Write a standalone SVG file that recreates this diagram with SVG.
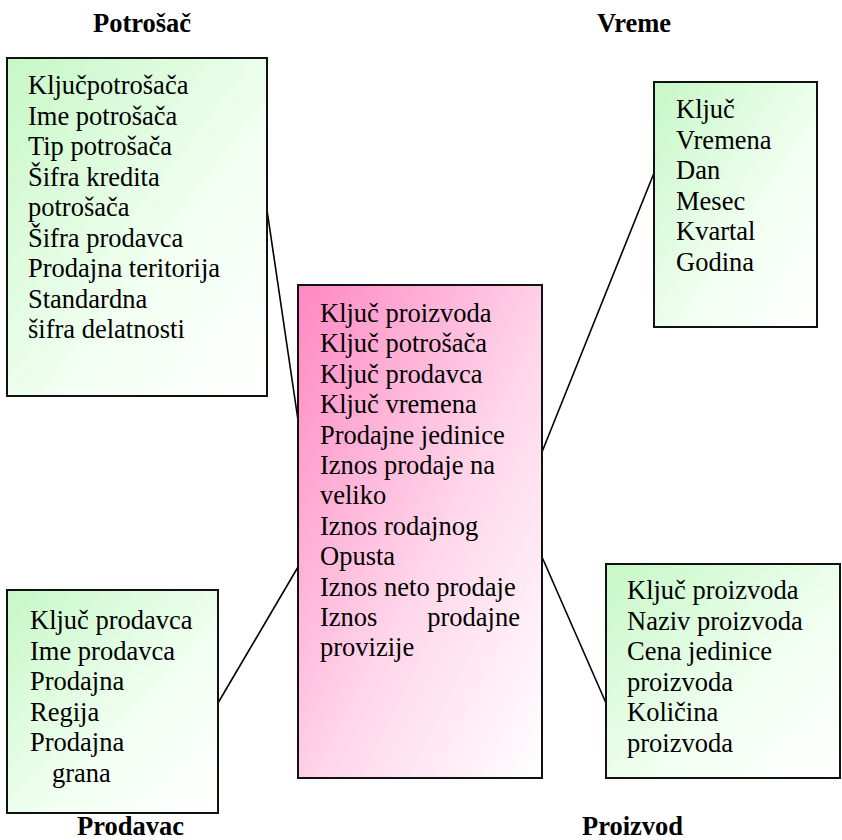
<svg xmlns="http://www.w3.org/2000/svg" width="842" height="840" viewBox="0 0 842 840">
<defs>
<linearGradient id="gGreen" x1="0" y1="0" x2="1" y2="1">
<stop offset="0" stop-color="#c6f7c6"/>
<stop offset="0.6" stop-color="#f2fff2"/>
<stop offset="1" stop-color="#ffffff"/>
</linearGradient>
<linearGradient id="gPink" x1="0" y1="0" x2="1" y2="1">
<stop offset="0" stop-color="#ff88c2"/>
<stop offset="0.55" stop-color="#ffd6ea"/>
<stop offset="1" stop-color="#ffffff"/>
</linearGradient>
</defs>
<style>
.box{stroke:#111;stroke-width:2}
.g{fill:url(#gGreen)}
.p{fill:url(#gPink)}
text{font-family:"Liberation Serif","Times New Roman",serif;font-size:26.5px;fill:#000}
.t{font-weight:bold}
.c{stroke:#000;stroke-width:1.6;fill:none}
</style>
<rect width="842" height="840" fill="#fff"/>
<g id="connectors">
<line class="c" x1="267" y1="210" x2="298" y2="420"/>
<line class="c" x1="654" y1="173" x2="542" y2="452"/>
<line class="c" x1="218" y1="703" x2="298" y2="567"/>
<line class="c" x1="542" y1="557" x2="606" y2="703"/>
</g>
<g id="potrosac">
<text class="t" x="93" y="32">Potrošač</text>
<rect class="box g" x="7" y="58" width="260" height="338"/>
<text x="28" y="94">Ključpotrošača</text>
<text x="28" y="124.5">Ime potrošača</text>
<text x="28" y="155">Tip potrošača</text>
<text x="28" y="185.5">Šifra kredita</text>
<text x="28" y="216">potrošača</text>
<text x="28" y="246.5">Šifra prodavca</text>
<text x="28" y="277">Prodajna teritorija</text>
<text x="28" y="307.5">Standardna</text>
<text x="28" y="338">šifra delatnosti</text>
</g>
<g id="vreme">
<text class="t" x="597" y="32">Vreme</text>
<rect class="box g" x="654" y="82" width="163" height="245"/>
<text x="676" y="118">Ključ</text>
<text x="676" y="148.5">Vremena</text>
<text x="676" y="179">Dan</text>
<text x="676" y="209.5">Mesec</text>
<text x="676" y="240">Kvartal</text>
<text x="676" y="270.5">Godina</text>
</g>
<g id="fact">
<rect class="box p" x="298" y="285" width="244" height="493"/>
<text x="320" y="322">Ključ proizvoda</text>
<text x="320" y="352.4">Ključ potrošača</text>
<text x="320" y="382.8">Ključ prodavca</text>
<text x="320" y="413.2">Ključ vremena</text>
<text x="320" y="443.6">Prodajne jedinice</text>
<text x="320" y="474">Iznos prodaje na</text>
<text x="320" y="504.4">veliko</text>
<text x="320" y="534.8">Iznos rodajnog</text>
<text x="320" y="565.2">Opusta</text>
<text x="320" y="595.6">Iznos neto prodaje</text>
<text x="320" y="626">Iznos</text>
<text x="520" y="626" text-anchor="end">prodajne</text>
<text x="320" y="656.4">provizije</text>
</g>
<g id="prodavac">
<rect class="box g" x="7" y="590" width="211" height="223"/>
<text x="30" y="629">Ključ prodavca</text>
<text x="30" y="659.5">Ime prodavca</text>
<text x="30" y="690">Prodajna</text>
<text x="30" y="720.5">Regija</text>
<text x="30" y="751">Prodajna</text>
<text x="52" y="781.5">grana</text>
<text class="t" x="77" y="835">Prodavac</text>
</g>
<g id="proizvod">
<rect class="box g" x="606" y="564" width="234" height="214"/>
<text x="627" y="599">Ključ proizvoda</text>
<text x="627" y="629.5">Naziv proizvoda</text>
<text x="627" y="660">Cena jedinice</text>
<text x="627" y="690.5">proizvoda</text>
<text x="627" y="721">Količina</text>
<text x="627" y="751.5">proizvoda</text>
<text class="t" x="582" y="835">Proizvod</text>
</g>
</svg>
